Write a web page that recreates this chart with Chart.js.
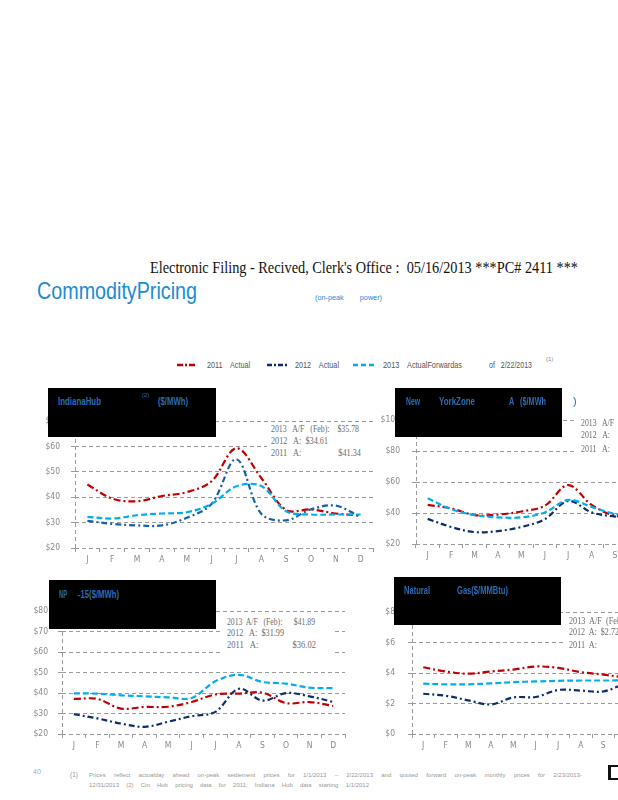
<!DOCTYPE html>
<html>
<head>
<meta charset="utf-8">
<script src="https://cdn.jsdelivr.net/npm/chart.js@4.4.1/dist/chart.umd.min.js"></script>
<style>
html, body { margin: 0; padding: 0; width: 618px; height: 800px; overflow: hidden; background: #fff; }
body { position: relative; }
canvas { position: absolute; }
.t { position: absolute; white-space: pre; line-height: 1; transform-origin: left top; }
.sans { font-family: "Liberation Sans", Arial, sans-serif; }
.serif { font-family: "Liberation Serif", "Times New Roman", serif; }
.box { position: absolute; background: #000; }
.ttl { color: #2b6cb5; font-size: 11px; font-weight: bold; }
.note { color: #6e6e6e; font-size: 10px; }
.bg { position: absolute; background: #fff; }
</style>
</head>
<body>

<div class="t serif" data-w="428" style="left:150px; top:259px; font-size:17px; color:#111;">Electronic Filing - Recived, Clerk's Office :  05/16/2013 ***PC# 2411 ***</div>
<div class="t sans" data-w="160" style="left:37px; top:279px; font-size:24px; color:#1b8bd3;">CommodityPricing</div>
<div class="t sans" data-w="67" style="left:315px; top:294px; font-size:8px; color:#1b8bd3;">(on-peak        power)</div>

<!-- legend -->
<svg style="position:absolute; left:170px; top:358px;" width="220" height="14">
  <line x1="7" y1="7" x2="25" y2="7" stroke="#c00000" stroke-width="2.5" stroke-dasharray="6,2,2,2"/>
  <line x1="97" y1="7" x2="117" y2="7" stroke="#0c2d6b" stroke-width="2.5" stroke-dasharray="5,2,2,2"/>
  <line x1="183" y1="7" x2="207" y2="7" stroke="#00aeef" stroke-width="2.5" stroke-dasharray="5,3"/>
</svg>
<div class="t sans" data-w="43" style="left:207px; top:361px; font-size:9px; color:#555;">2011    Actual</div>
<div class="t sans" data-w="44" style="left:295px; top:361px; font-size:9px; color:#555;">2012    Actual</div>
<div class="t sans" data-w="79" style="left:383px; top:361px; font-size:9px; color:#555;">2013    ActualForwardas</div>
<div class="t sans" data-w="43" style="left:489px; top:361px; font-size:9px; color:#555;">of   2/22/2013</div>
<div class="t sans" style="left:546px; top:356px; font-size:6px; color:#888;">(1)</div>

<canvas id="c1" width="350" height="165" style="left:30px; top:405px;"></canvas>
<canvas id="c2" width="330" height="163" style="left:380px; top:403px;"></canvas>
<canvas id="c3" width="330" height="160" style="left:20px; top:596px;"></canvas>
<canvas id="c4" width="310" height="162" style="left:380px; top:594px;"></canvas>

<!-- annotation blocks -->
<div class="bg" style="left:267px; top:423px; width:108px; height:36px;"></div>
<div class="t serif note" data-w="88" style="left:271px; top:424px;">2013   A/F   (Feb):    $35.78</div>
<div class="t serif note" data-w="57" style="left:271px; top:436px;">2012   A:  $34.61</div>
<div class="t serif note" data-w="90" style="left:271px; top:448px;">2011   A:                  $41.34</div>

<div class="bg" style="left:577px; top:417px; width:45px; height:38px;"></div>
<div class="t serif note" data-w="33" style="left:581px; top:418px;">2013   A/F</div>
<div class="t serif note" data-w="29" style="left:581px; top:430px;">2012   A:</div>
<div class="t serif note" data-w="29" style="left:581px; top:444px;">2011   A:</div>

<div class="bg" style="left:223px; top:615px; width:109px; height:40px;"></div>
<div class="t serif note" data-w="88" style="left:227px; top:617px;">2013  A/F   (Feb):      $41.89</div>
<div class="t serif note" data-w="57" style="left:227px; top:628px;">2012   A:  $31.99</div>
<div class="t serif note" data-w="89" style="left:227px; top:640px;">2011   A:                $36.02</div>

<div class="bg" style="left:565px; top:614px; width:60px; height:38px;"></div>
<div class="t serif note" data-w="52" style="left:569px; top:616px;">2013  A/F  (Feb</div>
<div class="t serif note" data-w="50" style="left:569px; top:627px;">2012  A:  $2.72</div>
<div class="t serif note" data-w="28" style="left:569px; top:640px;">2011  A:</div>

<!-- title boxes -->
<div class="box" style="left:48px; top:388px; width:168px; height:49px;"></div>
<div class="t sans ttl" data-w="43" style="left:58px; top:396px;">IndianaHub</div>
<div class="t sans ttl" style="left:142px; top:392px; font-size:6px; font-weight:normal;">(2)</div>
<div class="t sans ttl" data-w="30" style="left:158px; top:396px;">($/MWh)</div>

<div class="box" style="left:395px; top:388px; width:167px; height:49px;"></div>
<div class="t sans ttl" data-w="14" style="left:406px; top:396px;">New</div>
<div class="t sans ttl" data-w="36" style="left:439px; top:396px;">YorkZone</div>
<div class="t sans ttl" data-w="37" style="left:509px; top:396px;">A   ($/MWh</div>
<div class="t sans ttl" style="left:573px; top:396px; font-weight:normal;">)</div>

<div class="box" style="left:49px; top:580px; width:167px; height:49px;"></div>
<div class="t sans ttl" data-w="8" style="left:59px; top:589px;">NP</div>
<div class="t sans ttl" data-w="41" style="left:78px; top:589px;">-15($/MWh)</div>

<div class="box" style="left:394px; top:577px; width:167px; height:48px;"></div>
<div class="t sans ttl" data-w="26" style="left:404px; top:585px;">Natural</div>
<div class="t sans ttl" data-w="51" style="left:457px; top:585px;">Gas($/MMBtu)</div>

<!-- footnote -->
<div class="t sans" style="left:33px; top:768px; font-size:7px; color:#aaa;">40</div>
<div class="t sans" style="left:70px; top:772px; font-size:6.5px; color:#999;">(1)</div>
<div class="t sans" style="left:89px; top:772px; width:493px; font-size:6px; color:#999; white-space:normal; text-align:justify; text-align-last:justify;">Prices reflect actualday ahead on-peak settlement prices for 1/1/2013 – 2/22/2013 and quoted forward on-peak monthly prices for 2/23/2013-</div>
<div class="t sans" style="left:89px; top:782px; width:280px; font-size:6px; color:#999; white-space:normal; text-align:justify; text-align-last:justify;">12/31/2013 (2) Cin Hub pricing data for 2011; Indiana Hub data starting 1/1/2012</div>
<div style="position:absolute; left:608px; top:765px; width:10px; height:11px; border-left:3px solid #111; border-top:2px solid #111; border-bottom:2px solid #111;"></div>

<script>
const months = ['J', 'F', 'M', 'A', 'M', 'J', 'J', 'A', 'S', 'O', 'N', 'D'];

const indiana2011 = [45, 39.5, 38.4, 40.5, 42, 46.3, 59.3, 47.6, 35, 35.2, 33.6, 32.8];
const indiana2012 = [30.7, 29.5, 28.9, 28.9, 31.9, 37.4, 55, 33.5, 30.9, 35.2, 36.7, 32.2];
const indiana2013 = [32.3, 31.6, 32.9, 33.6, 34.1, 37.4, 44.3, 44.4, 34.5, 33.2, 33.2, 33.2];

const nyA2011 = [45.3, 43, 38.7, 39, 41, 44.7, 58, 45.3, 38.3, 38, 37, 40];
const nyA2012 = [36.2, 31, 27.7, 28.3, 31, 36, 47.8, 40.4, 37.7, 36, 35, 38];
const nyA2013 = [49.5, 42.5, 38.7, 37.2, 37.2, 40.4, 48.5, 44, 39.4, 38, 40, 45];

const np2011 = [37.1, 37.1, 32.4, 33.2, 33.3, 35.6, 39.3, 39.7, 40.2, 35.1, 35.6, 33.7];
const np2012 = [29.7, 27.6, 25.1, 23.5, 26, 28.7, 30.8, 42.1, 36.3, 40, 38.4, 35.6];
const np2013 = [39.8, 39.7, 38.9, 38.4, 37.9, 37.6, 45.7, 48.9, 45.4, 44.6, 42.6, 42.4];

const gas2011 = [4.38, 4.1, 3.96, 4.1, 4.23, 4.43, 4.34, 4.06, 3.9, 3.7, 3.6, 3.5];
const gas2012 = [2.64, 2.51, 2.21, 1.94, 2.4, 2.43, 2.89, 2.85, 2.79, 3.3, 3.4, 3.4];
const gas2013 = [3.3, 3.26, 3.26, 3.32, 3.4, 3.45, 3.49, 3.51, 3.51, 3.52, 3.55, 3.6];

const fontTicks = '"DejaVu Sans Condensed", "Liberation Sans", sans-serif';

// squeeze text to the widths of the scanned page (it was set in a narrow face)
function ajustarTextos() {
  document.querySelectorAll('[data-w]').forEach(el => {
    el.style.transform = '';
    const w = el.getBoundingClientRect().width;
    if (w > 0) el.style.transform = 'scaleX(' + (parseFloat(el.dataset.w) / w) + ')';
  });
}

// dashed y axis line (library border is always solid)
const yAxisLine = {
  id: 'yAxisLine',
  beforeDatasetsDraw(chart) {
    const a = chart.chartArea;
    const ctx = chart.ctx;
    ctx.save();
    ctx.strokeStyle = '#9a9a9a';
    ctx.lineWidth = 1;
    ctx.setLineDash([4, 3]);
    ctx.beginPath();
    ctx.moveTo(Math.round(a.left) + 0.5, a.bottom);
    ctx.lineTo(Math.round(a.left) + 0.5, a.top);
    ctx.stroke();
    ctx.restore();
  }
};

function grafico(id, d2011, d2012, d2013, opt) {
  const ctx = document.getElementById(id).getContext('2d');
  return new Chart(ctx, {
    type: 'line',
    data: {
      labels: months,
      datasets: [
        { data: d2013, borderColor: '#00aeef', borderDash: [6, 3], borderWidth: 2.2 },
        { data: d2012, borderColor: opt.dark, borderDash: [6, 3, 2, 3], borderWidth: 2.2 },
        { data: d2011, borderColor: '#c00000', borderDash: [7, 3, 2, 3], borderWidth: 2.2 }
      ]
    },
    options: {
      responsive: false,
      animation: false,
      devicePixelRatio: 1,
      layout: { padding: { top: 5, right: opt.right, left: 0, bottom: 0 } },
      elements: { point: { radius: 0 }, line: { tension: 0.35, fill: false } },
      plugins: { legend: { display: false }, tooltip: { enabled: false } },
      scales: {
        x: {
          offset: true,
          grid: { display: true, drawOnChartArea: false, drawTicks: true, tickLength: 4, color: '#9a9a9a', offset: true },
          border: { display: false },
          ticks: { color: '#8a8a8a', font: { family: fontTicks, size: 8.5 }, padding: 3, maxRotation: 0, autoSkip: false },
          afterFit: s => { s.height = 22; }
        },
        y: {
          min: opt.min, max: opt.max,
          grid: { color: '#9a9a9a', lineWidth: 1, tickLength: 4 },
          border: { display: false, dash: [4, 3] },
          ticks: {
            stepSize: opt.step, color: '#8a8a8a', padding: opt.pad,
            font: { family: fontTicks, size: 8.5 },
            callback: v => '$' + v
          },
          afterFit: s => { s.width = opt.yw; }
        }
      }
    },
    plugins: [yAxisLine]
  });
}

grafico('c1', indiana2011, indiana2012, indiana2013, { min: 20, max: 70, step: 10, yw: 45, pad: 11, right: 7, dark: '#1560ad' });
grafico('c2', nyA2011, nyA2012, nyA2013, { min: 20, max: 100, step: 20, yw: 36, pad: 12, right: 13, dark: '#0c2d6b' });
grafico('c3', np2011, np2012, np2013, { min: 20, max: 80, step: 10, yw: 42, pad: 10, right: 5, dark: '#0c2d6b' });
grafico('c4', gas2011, gas2012, gas2013, { min: 0, max: 8, step: 2, yw: 32, pad: 13, right: 8, dark: '#0c2d6b' });

ajustarTextos();
if (document.fonts) document.fonts.ready.then(ajustarTextos);
</script>
</body>
</html>
